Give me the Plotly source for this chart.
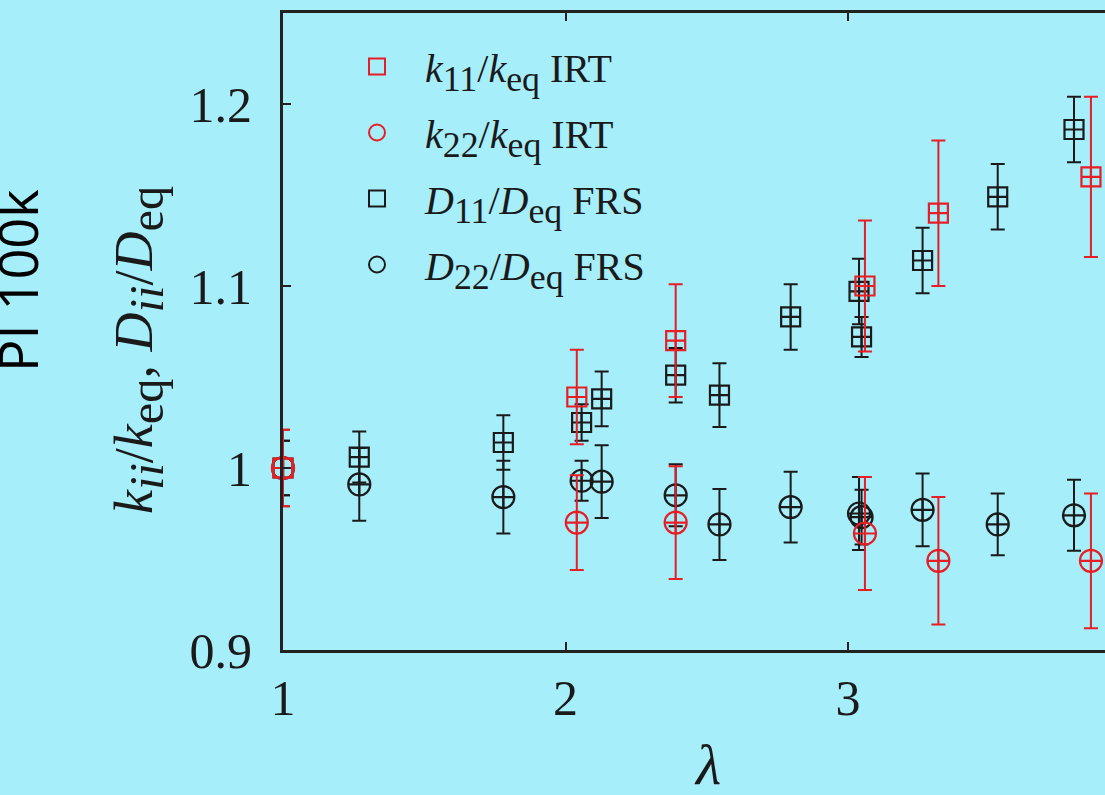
import plotly.graph_objects as go

# ---- data ----
lam_k = [1.0, 2.04, 2.39, 3.06, 3.32, 3.86]
k11 = [1.0, 1.039, 1.070, 1.100, 1.140, 1.160]
k11_err = [0.021, 0.026, 0.031, 0.036, 0.040, 0.044]
k22 = [1.0, 0.970, 0.970, 0.964, 0.949, 0.949]
k22_err = [0.021, 0.026, 0.031, 0.031, 0.035, 0.037]

lam_D = [1.0, 1.27, 1.78, 2.057, 2.128, 2.39, 2.545, 2.797, 3.039, 3.048, 3.264, 3.53, 3.80]
D11 = [1.0, 1.006, 1.014, 1.025, 1.038, 1.051, 1.040, 1.083, 1.097, 1.072, 1.114, 1.149, 1.186]
D11_err = [0.015, 0.014, 0.015, 0.010, 0.015, 0.015, 0.0175, 0.018, 0.018, 0.011, 0.018, 0.018, 0.018]
D22 = [1.0, 0.991, 0.984, 0.993, 0.9925, 0.985, 0.969, 0.9785, 0.975, 0.973, 0.977, 0.969, 0.974]
D22_err = [0.015, 0.020, 0.020, 0.011, 0.020, 0.017, 0.0195, 0.0195, 0.020, 0.015, 0.020, 0.017, 0.0195]


def sub(s):
    return f'<sub><span style="font-size:128%">{s}</span></sub>'


names = [
    f"<i>k</i>{sub('11')}/<i>k</i>{sub('eq')} IRT",
    f"<i>k</i>{sub('22')}/<i>k</i>{sub('eq')} IRT",
    f"<i>D</i>{sub('11')}/<i>D</i>{sub('eq')} FRS",
    f"<i>D</i>{sub('22')}/<i>D</i>{sub('eq')} FRS",
]
ytitle = f"<i>k</i>{sub('<i>ii</i>')}/<i>k</i>{sub('eq')}, <i>D</i>{sub('<i>ii</i>')}/<i>D</i>{sub('eq')}"

RED = "#e61e25"
BLK = "#1a1a1a"
BG = "#a6eefa"
SERIF = "Liberation Serif"

fig = go.Figure()


def data_trace(x, y, e, color, symbol, size):
    return go.Scatter(
        x=x, y=y, mode="markers", showlegend=False, cliponaxis=False,
        marker=dict(symbol=symbol, size=size, color=color, line=dict(width=2.2, color=color)),
        error_y=dict(type="data", array=e, visible=True, color=color, thickness=2, width=7),
    )


fig.add_trace(data_trace(lam_D, D11, D11_err, BLK, "square-cross-open", 19))
fig.add_trace(data_trace(lam_D, D22, D22_err, BLK, "circle-cross-open", 22))
fig.add_trace(data_trace(lam_k, k11, k11_err, RED, "square-cross-open", 19))
fig.add_trace(data_trace(lam_k, k22, k22_err, RED, "circle-cross-open", 22))

# legend entries
for i, (nm, col, sym) in enumerate(zip(names, [RED, RED, BLK, BLK],
                                        ["square-open", "circle-open", "square-open", "circle-open"])):
    fig.add_trace(go.Scatter(
        x=[None], y=[None], mode="markers", name=nm, legendgroup=f"g{i}", legendrank=i + 1,
        marker=dict(symbol=sym, size=16, color=col, line=dict(width=2, color=col)),
    ))

W, H = 1105, 795
L, R, T, B = 283, 0, 13, 145
pw, ph = W - L - R, H - T - B


def px(xp):
    return (xp - L) / pw


def py(yp):
    return (H - B - yp) / ph


fig.update_layout(
    width=W, height=H, autosize=False,
    margin=dict(l=L, r=R, t=T, b=B, pad=0),
    paper_bgcolor=BG, plot_bgcolor=BG,
    font=dict(family=SERIF, color=BLK),
    showlegend=True,
    legend=dict(
        x=px(329), y=py(34), xanchor="left", yanchor="top",
        bgcolor="rgba(0,0,0,0)", borderwidth=0,
        font=dict(family=SERIF, size=40, color=BLK),
        itemwidth=86, tracegroupgap=11, traceorder="grouped",
    ),
    xaxis=dict(
        range=[1.0, 1.0 + pw / 282.5], tickvals=[1, 2, 3], ticktext=["1", "2", "3"],
        showgrid=False, zeroline=False,
        showline=True, linecolor="#222222", linewidth=3, mirror="ticks",
        ticks="inside", ticklen=8, tickwidth=2, tickcolor="#222222",
        tickfont=dict(family=SERIF, size=50, color=BLK), ticklabelstandoff=2,
    ),
    yaxis=dict(
        range=[0.9, 1.25], tickvals=[0.9, 1.0, 1.1, 1.2], ticktext=["0.9", "1", "1.1", "1.2"],
        showgrid=False, zeroline=False,
        showline=True, linecolor="#222222", linewidth=3, mirror=False,
        ticks="inside", ticklen=8, tickwidth=2, tickcolor="#222222",
        tickfont=dict(family=SERIF, size=50, color=BLK), ticklabelstandoff=18,
    ),
    annotations=[
        dict(text=ytitle,
             xref="paper", yref="paper", x=px(138), y=py(350), xanchor="center", yanchor="middle",
             textangle=-90, showarrow=False, font=dict(family=SERIF, size=54, color=BLK)),
        dict(text="<i>λ</i>", xref="paper", yref="paper", x=px(707), y=py(764),
             xanchor="center", yanchor="middle", showarrow=False,
             font=dict(family=SERIF, size=58, color=BLK)),
        dict(text="PI 100k", xref="paper", yref="paper", x=px(17), y=py(281),
             xanchor="center", yanchor="middle", textangle=-90, showarrow=False,
             font=dict(family="Open Sans", size=54, color="#000000")),
    ],
)

fig.write_html("out.html")
